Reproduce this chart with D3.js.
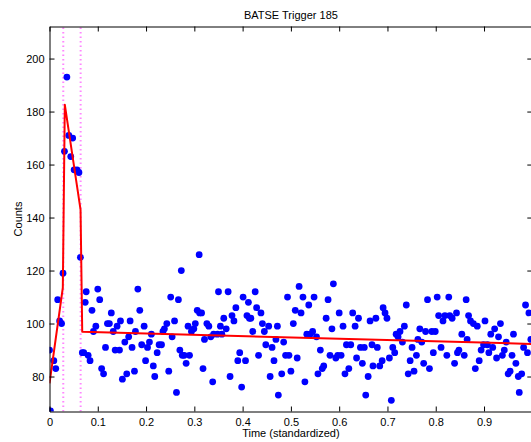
<!DOCTYPE html>
<html>
<head>
<meta charset="utf-8">
<script src="https://cdn.jsdelivr.net/npm/d3@7"></script>
<style>
  html, body { margin: 0; padding: 0; background: #fff; }
  svg { display: block; font-family: "Liberation Sans", Arial, Helvetica, sans-serif; }
</style>
</head>
<body>
<svg id="chart" width="531" height="442"></svg>
<script>
// ---- Data ----
const title = "BATSE Trigger 185";
const xLabel = "Time (standardized)";
const yLabel = "Counts";

const times = [
  0.000,0.002,0.009,0.013,0.017,0.021,0.025,0.028,0.031,0.036,0.040,0.044,0.048,0.051,0.057,0.061,0.064,0.068,
  0.071,0.074,0.076,0.080,0.084,0.088,0.091,0.096,0.100,0.104,0.108,0.112,0.116,0.120,0.124,0.128,0.132,0.136,
  0.140,0.145,0.147,0.151,0.156,0.160,0.164,0.167,0.171,0.176,0.178,0.183,0.187,0.191,0.196,0.199,0.203,0.207,
  0.211,0.215,0.218,0.223,0.227,0.232,0.235,0.238,0.243,0.247,0.251,0.254,0.259,0.263,0.267,0.270,0.273,0.275,
  0.279,0.283,0.287,0.290,0.294,0.299,0.302,0.306,0.310,0.311,0.315,0.318,0.321,0.326,0.330,0.334,0.338,0.340,
  0.348,0.350,0.354,0.357,0.361,0.366,0.370,0.374,0.378,0.382,0.386,0.390,0.394,0.398,0.401,0.406,0.409,0.412,
  0.414,0.417,0.421,0.426,0.429,0.433,0.438,0.441,0.445,0.448,0.454,0.457,0.461,0.465,0.469,0.472,0.474,
  0.481,0.485,0.489,0.493,0.496,0.500,0.505,0.509,0.513,0.517,0.521,0.525,0.529,0.533,0.537,0.540,0.545,0.548,
  0.553,0.556,0.561,0.565,0.568,0.573,0.577,0.581,0.585,0.588,0.593,0.597,0.600,0.604,0.608,0.612,0.615,0.620,
  0.624,0.628,0.633,0.636,0.640,0.644,0.648,0.652,0.655,0.660,0.664,0.668,0.670,0.676,
  0.679,0.684,0.689,0.691,0.695,0.699,0.704,0.708,0.711,0.715,0.718,0.722,0.726,0.731,0.735,0.739,0.743,0.747,
  0.751,0.755,0.760,0.763,0.767,0.771,0.775,0.779,0.783,0.787,0.792,0.795,0.799,0.803,0.806,0.811,0.815,0.819,
  0.823,0.827,0.829,0.834,0.839,0.843,0.845,0.848,0.854,0.859,0.863,0.865,0.868,0.872,
  0.878,0.882,0.886,0.890,0.894,0.899,0.902,0.907,0.910,0.914,0.918,0.922,0.926,0.930,0.934,0.938,0.942,0.946,
  0.950,0.954,0.958,0.961,0.966,0.971,0.973,0.978,0.982,0.986,0.990,0.993,0.997
];
const counts = [
  90,67,86,83,109,101,100,119,165,193,171,163,170,158,158,157,125,89,
  89,108,112,88,86,105,97,99,113,109,83,81,91,100,100,104,97,90,
  99,90,101,79,93,81,95,101,91,82,97,113,105,92,99,86,91,93,
  96,84,80,89,92,92,97,98,100,82,110,95,101,74,109,90,120,88,
  88,85,99,88,97,98,100,105,126,104,104,83,94,100,99,95,78,96,
  96,112,99,96,102,98,112,80,103,101,106,86,89,76,110,86,103,108,
  102,102,97,112,106,88,104,100,97,92,99,80,91,86,94,99,73,
  81,93,88,110,88,82,100,105,87,114,104,110,78,96,107,96,97,110,
  95,81,90,83,84,102,109,88,98,115,87,88,104,88,99,81,92,83,
  92,104,99,87,102,91,85,91,73,80,101,92,84,102,
  91,84,86,106,104,102,87,71,91,89,96,95,97,93,99,107,81,86,
  91,82,88,94,98,93,85,97,109,83,97,89,97,110,103,91,101,103,
  88,110,103,102,85,104,89,90,96,88,109,94,103,101,
  100,83,99,86,90,92,101,92,89,96,91,98,87,95,100,88,90,93,
  81,82,88,96,85,80,74,81,91,107,89,104,94
];

// fitted piecewise model (red line)
const fitTimes  = [0, 0.0276, 0.0317, 0.0643, 0.0678, 1.0];
const fitCounts = [77.4, 113.5, 182.6, 143.0, 96.9, 92.3];

// change points (magenta dotted lines)
const changeTimes = [0.0285, 0.0645];

const xTicks = [0, 0.1, 0.2, 0.3, 0.4, 0.5, 0.6, 0.7, 0.8, 0.9, 1];
const yTicks = [80, 100, 120, 140, 160, 180, 200];
const xDomain = [0, 1];
const yDomain = [66.8, 212.1];

// ---- Layout ----
const svg = d3.select("#chart");
const mLeft = 49.5, mRight = 532.3, mTop = 26.5, mBottom = 411.5;

const x = d3.scaleLinear().domain(xDomain).range([mLeft, mRight]);
const y = d3.scaleLinear().domain(yDomain).range([mBottom, mTop]);

svg.append("defs").append("clipPath").attr("id", "clip")
  .append("rect").attr("x", mLeft).attr("y", mTop)
  .attr("width", mRight - mLeft).attr("height", mBottom - mTop);

const plot = svg.append("g").attr("clip-path", "url(#clip)");

// change-point lines
plot.selectAll("line.cp").data(changeTimes).enter().append("line")
  .attr("class", "cp")
  .attr("x1", d => x(d)).attr("x2", d => x(d))
  .attr("y1", y(yDomain[0])).attr("y2", y(yDomain[1]))
  .attr("stroke", "#ff55ff").attr("stroke-width", 2)
  .attr("stroke-dasharray", "1.5,3").attr("opacity", 0.7);

// points
const pts = times.map((t, i) => ({ t: t, c: counts[i] }));
plot.selectAll("circle.pt").data(pts).enter().append("circle")
  .attr("class", "pt")
  .attr("cx", d => x(d.t)).attr("cy", d => y(d.c))
  .attr("r", 3.4).attr("fill", "#0000ff");

// fit line
const fit = fitTimes.map((t, i) => ({ t: t, c: fitCounts[i] }));
plot.append("path").datum(fit)
  .attr("d", d3.line().x(d => x(d.t)).y(d => y(d.c)))
  .attr("fill", "none").attr("stroke", "#ff0000").attr("stroke-width", 2)
  .attr("stroke-linejoin", "round");

// ---- Axes ----
const fmt = d => String(d);
const axB = svg.append("g").attr("transform", `translate(0,${mBottom})`)
  .call(d3.axisBottom(x).tickValues(xTicks.filter(v => v < 1)).tickFormat(fmt)
    .tickSizeInner(-5).tickSizeOuter(0).tickPadding(7));
const axT = svg.append("g").attr("transform", `translate(0,${mTop})`)
  .call(d3.axisTop(x).tickValues(xTicks).tickFormat("")
    .tickSizeInner(-5).tickSizeOuter(0));
const axL = svg.append("g").attr("transform", `translate(${mLeft},0)`)
  .call(d3.axisLeft(y).tickValues(yTicks).tickFormat(fmt)
    .tickSizeInner(-5).tickSizeOuter(0).tickPadding(5));
const axR = svg.append("g").attr("transform", `translate(${mRight},0)`)
  .call(d3.axisRight(y).tickValues(yTicks).tickFormat("")
    .tickSizeInner(-5).tickSizeOuter(0));

[axB, axT, axL, axR].forEach(g => {
  g.selectAll("path.domain").attr("stroke", "#000").attr("stroke-width", 1);
  g.selectAll(".tick line").attr("stroke", "#000").attr("stroke-width", 1);
  g.selectAll("text").attr("fill", "#000").style("font-size", "11px")
    .style("font-family", "'Liberation Sans', Arial, Helvetica, sans-serif");
});

// ---- Labels ----
svg.append("text").attr("x", (mLeft + mRight) / 2).attr("y", 18.5)
  .attr("text-anchor", "middle").style("font-size", "11px").attr("fill", "#000")
  .text(title);
svg.append("text").attr("x", (mLeft + mRight) / 2).attr("y", 437)
  .attr("text-anchor", "middle").style("font-size", "11px").attr("fill", "#000")
  .text(xLabel);
svg.append("text").attr("transform", `translate(22,${(mTop + mBottom) / 2}) rotate(-90)`)
  .attr("text-anchor", "middle").style("font-size", "11px").attr("fill", "#000")
  .text(yLabel);
</script>
</body>
</html>
